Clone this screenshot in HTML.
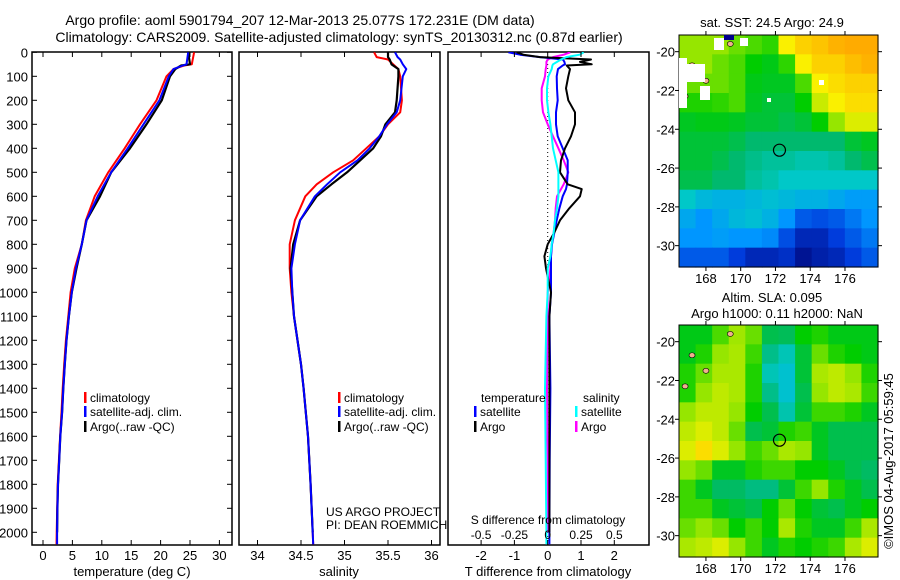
<!DOCTYPE html>
<html><head><meta charset="utf-8"><style>
html,body{margin:0;padding:0;background:#fff;}
svg{display:block;font-family:"Liberation Sans",sans-serif;}
</style></head><body>
<svg id="fig" width="900" height="580" viewBox="0 0 900 580" xmlns="http://www.w3.org/2000/svg">
<rect width="900" height="580" fill="#fff"/>
<text x="300" y="25" font-size="14" text-anchor="middle">Argo profile: aoml 5901794_207 12-Mar-2013 25.077S 172.231E (DM data)</text>
<text x="339" y="42" font-size="14" text-anchor="middle">Climatology: CARS2009. Satellite-adjusted climatology: synTS_20130312.nc (0.87d earlier)</text>
<defs>
<clipPath id="c1"><rect x="32" y="52" width="200" height="493"/></clipPath>
<clipPath id="c2"><rect x="239" y="52" width="201" height="493"/></clipPath>
<clipPath id="c3"><rect x="448" y="52" width="201" height="493"/></clipPath>
</defs>
<g id="p1"></g>
<g id="p2"></g>
<g id="p3"></g>
<g id="m1"></g>
<g id="m2"></g>
<text x="772" y="27" font-size="13" text-anchor="middle">sat. SST: 24.5 Argo: 24.9</text>
<text x="772" y="302" font-size="13" text-anchor="middle">Altim. SLA: 0.095</text>
<text x="777" y="318" font-size="13" text-anchor="middle">Argo h1000: 0.11 h2000: NaN</text>
<text x="0" y="0" font-size="13" text-anchor="middle" transform="translate(893,461) rotate(-90)">©IMOS 04-Aug-2017 05:59:45</text>
</svg>
<script>
// ---- data ----
const depthTicks=[0,100,200,300,400,500,600,700,800,900,1000,1100,1200,1300,1400,1500,1600,1700,1800,1900,2000];
const tempTicks=[0,5,10,15,20,25,30];
const salTicks=[34,34.5,35,35.5,36];
const tdiffTicks=[-2,-1,0,1,2];
const sdiffTicks=[-0.5,-0.25,0,0.25,0.5];
const tempDepth=[0,50,55,70,100,200,300,400,500,600,700,800,900,1000,1100,1200,1300,1400,1500,1600,1700,1800,1900,2000,2050];
const tempClim=[25.7,25.3,24.0,22.2,21.0,19.3,16.5,13.9,11.1,8.8,7.3,6.6,5.4,4.7,4.3,3.9,3.6,3.35,3.15,2.9,2.7,2.5,2.42,2.33,2.3];
const tempSat=[24.7,24.4,23.8,22.2,21.4,19.8,17.1,14.4,11.6,9.3,7.4,6.6,5.6,4.9,4.4,4.0,3.7,3.45,3.25,2.95,2.75,2.55,2.45,2.4,2.4];
const tempArgo=[24.7,25.0,23.5,22.5,21.6,20.2,17.6,14.8,11.6,9.7,7.4,6.6,5.7,4.9,4.4,4.0,3.7,3.45,3.25,2.95,2.75,2.55,2.45,2.4];
const salDepth=[0,20,30,50,70,100,200,250,300,350,400,450,500,550,600,700,800,900,1000,1100,1200,1300,1400,1600,1800,2000,2050];
const salClim=[35.34,35.37,35.50,35.56,35.62,35.64,35.66,35.64,35.50,35.40,35.25,35.10,34.87,34.68,34.55,34.43,34.37,34.37,34.39,34.42,34.46,34.50,34.53,34.58,34.61,34.635,34.64];
const salSat=[35.58,35.61,35.64,35.67,35.71,35.67,35.64,35.60,35.49,35.40,35.29,35.15,34.95,34.80,34.66,34.49,34.43,34.39,34.40,34.42,34.46,34.50,34.53,34.58,34.61,34.635,34.64];
const salArgo=[35.50,35.50,35.52,35.54,35.62,35.62,35.60,35.58,35.47,35.42,35.33,35.18,35.03,34.85,34.68,34.49,34.41,34.38,34.40,34.42,34.46,34.50,34.53,34.58,34.61,34.635];
const diffDepth=[0,10,20,30,40,50,55,70,100,150,200,250,300,350,400,450,500,550,570,600,650,700,750,800,850,900,1000,1100,1400,1700,2000,2050];
const tdiffSat=[-1.18,-0.83,-0.23,0.46,0.5,0.52,0.45,0.31,0.27,0.28,0.3,0.25,0.25,0.3,0.45,0.6,0.6,0.58,0.55,0.45,0.35,0.27,0.2,0.13,0.1,0.1,0.1,0.05,0.08,0.06,0.05,0.05];
const tdiffArgo=[-0.93,-0.73,-0.23,1.3,0.97,1.32,0.57,0.67,0.62,0.55,0.62,0.82,0.82,0.7,0.52,0.4,0.37,0.6,1.02,0.97,0.65,0.37,0.2,0.0,-0.1,-0.05,0.1,0.05,0.05,0.05,0.05];
const sdiffSat=[0.27,0.24,0.14,0.1,0.07,0.04,0.035,0.03,0.005,-0.005,-0.005,0.005,0.02,0.03,0.04,0.06,0.08,0.08,0.08,0.08,0.07,0.055,0.045,0.03,0.02,0.0,0.0,-0.01,-0.02,-0.015,-0.01,-0.01];
const sdiffArgo=[0.17,0.12,0.04,0.0,-0.01,-0.01,-0.01,-0.015,-0.02,-0.045,-0.045,-0.035,0,0.04,0.08,0.12,0.155,0.12,0.1,0.07,0.06,0.055,0.045,0.03,0.025,0.02,0.0,0.0,-0.005,0,0];
const latTicks=[-20,-22,-24,-26,-28,-30];
const lonTicks=[168,170,172,174,176];
const sstGrid=[
[0.75,0.75,0.75,0.72,0.70,0.68,0.85,0.90,0.92,0.95,0.96,0.96],
[0.75,0.75,0.72,0.70,0.65,0.63,0.68,0.85,0.90,0.90,0.93,0.95],
[0.72,0.72,0.72,0.70,0.63,0.62,0.62,0.70,0.85,0.88,0.90,0.90],
[0.67,0.67,0.68,0.70,0.62,0.60,0.60,0.65,0.80,0.85,0.88,0.88],
[0.62,0.63,0.63,0.62,0.60,0.60,0.58,0.60,0.65,0.75,0.82,0.82],
[0.60,0.60,0.60,0.58,0.55,0.55,0.55,0.55,0.55,0.55,0.60,0.62],
[0.60,0.60,0.58,0.55,0.52,0.50,0.50,0.48,0.48,0.50,0.55,0.58],
[0.58,0.58,0.55,0.55,0.50,0.48,0.45,0.45,0.45,0.45,0.45,0.45],
[0.45,0.40,0.38,0.38,0.40,0.42,0.40,0.38,0.38,0.35,0.32,0.32],
[0.35,0.30,0.35,0.40,0.42,0.38,0.30,0.20,0.18,0.20,0.25,0.30],
[0.30,0.30,0.32,0.30,0.30,0.28,0.18,0.10,0.10,0.15,0.20,0.25],
[0.20,0.20,0.20,0.15,0.10,0.10,0.12,0.05,0.08,0.10,0.15,0.20]];
const slaGrid=[
[0.63,0.63,0.70,0.76,0.72,0.58,0.57,0.65,0.67,0.63,0.63,0.63],
[0.63,0.67,0.75,0.77,0.69,0.52,0.47,0.60,0.72,0.67,0.65,0.63],
[0.67,0.72,0.77,0.77,0.67,0.47,0.43,0.60,0.77,0.79,0.75,0.67],
[0.67,0.75,0.79,0.77,0.67,0.52,0.43,0.58,0.75,0.79,0.77,0.69],
[0.75,0.79,0.79,0.75,0.65,0.58,0.48,0.60,0.69,0.69,0.67,0.62],
[0.79,0.82,0.79,0.72,0.58,0.60,0.67,0.69,0.62,0.58,0.58,0.58],
[0.82,0.88,0.82,0.75,0.69,0.72,0.77,0.75,0.62,0.58,0.58,0.58],
[0.75,0.72,0.62,0.62,0.67,0.69,0.69,0.65,0.65,0.62,0.58,0.56],
[0.69,0.62,0.56,0.56,0.53,0.53,0.60,0.69,0.75,0.67,0.62,0.58],
[0.69,0.69,0.62,0.60,0.58,0.65,0.72,0.65,0.60,0.58,0.62,0.65],
[0.72,0.75,0.72,0.65,0.69,0.65,0.77,0.67,0.62,0.62,0.69,0.77],
[0.77,0.79,0.82,0.75,0.69,0.62,0.67,0.65,0.67,0.69,0.77,0.82]];
const argoLon=172.231, argoLat=-25.077;

// ---- scales ----
const yD=d=>52.3+d*0.24;
const xT=t=>43+t*5.88;
const xS=s=>257.5+(s-34)*87;
const xDT=t=>547.7+t*33.3;
const xDS=s=>547.7+s*133.2;
const NS='http://www.w3.org/2000/svg';
function mk(tag,attrs,parent){const e=document.createElementNS(NS,tag);for(const k in attrs)e.setAttribute(k,attrs[k]);parent.appendChild(e);return e;}
function txt(parent,x,y,s,size,anchor){const t=mk('text',{x:x,y:y,'font-size':size,'text-anchor':anchor||'middle'},parent);t.textContent=s;return t;}

function panel(g,x0,x1,clip){
  const fr=mk('rect',{x:x0,y:52,width:x1-x0,height:493,fill:'none',stroke:'#000','stroke-width':1.5},g);
  
  
  const lg=mk('g',{'clip-path':'url(#'+clip+')'},g);
  return lg;
}
function line(parent,xs,ds,xf,color,name,w){
  const pts=xs.map((v,i)=>xf(v).toFixed(1)+','+yD(ds[i]).toFixed(1)).join(' ');
  const p=mk('polyline',{points:pts,fill:'none',stroke:color,'stroke-width':w||2,'stroke-linejoin':'round'},parent);
  
  
}
function xTicks(g,ticks,xf,labels){
  ticks.forEach((t,i)=>{
    const x=xf(t);
    mk('line',{x1:x,y1:545,x2:x,y2:540,stroke:'#000'},g);
    mk('line',{x1:x,y1:52,x2:x,y2:57,stroke:'#000'},g);
    if(labels){const l=txt(g,x,560,String(t),13);
      
      }
  });
}
function legendEntry(g,x,y,color,label){
  mk('rect',{x:x,y:y-10,width:2.5,height:11,fill:color},g);
  const t=txt(g,x+6,y,label,12,'start');
  
  
}

// panel 1
const p1=document.getElementById('p1');
const l1=panel(p1,32,232,'c1');
depthTicks.forEach(d=>{const y=yD(d);
  mk('line',{x1:32,y1:y,x2:37,y2:y,stroke:'#000'},p1);
  mk('line',{x1:232,y1:y,x2:227,y2:y,stroke:'#000'},p1);
  const t=txt(p1,28,y+5,String(d),13,'end');
  
  });
xTicks(p1,tempTicks,xT,true);
line(l1,tempClim,tempDepth,xT,'#f00','temp-climatology-line',2);
line(l1,tempArgo,tempDepth.slice(0,tempArgo.length),xT,'#000','temp-argo-line',2.2);
line(l1,tempSat,tempDepth,xT,'#00f','temp-satellite-line',2);
const xl1=txt(p1,132,576,'temperature (deg C)',13);


legendEntry(p1,84,402,'#f00','climatology');
legendEntry(p1,84,416,'#00f','satellite-adj. clim.');
legendEntry(p1,84,431,'#000','Argo(..raw -QC)');

// panel 2
const p2=document.getElementById('p2');
const l2=panel(p2,239,440,'c2');
xTicks(p2,salTicks,xS,true);
line(l2,salClim,salDepth,xS,'#f00','sal-climatology-line',2);
line(l2,salArgo,salDepth.slice(0,salArgo.length),xS,'#000','sal-argo-line',2.2);
line(l2,salSat,salDepth,xS,'#00f','sal-satellite-line',2);
const xl2=txt(p2,339,576,'salinity',13);


legendEntry(p2,338,402,'#f00','climatology');
legendEntry(p2,338,416,'#00f','satellite-adj. clim.');
legendEntry(p2,338,431,'#000','Argo(..raw -QC)');
const us1=txt(p2,326,516,'US ARGO PROJECT',12,'start');


const us2=txt(p2,326,529,'PI: DEAN ROEMMICH',12,'start');



// panel 3
const p3=document.getElementById('p3');
const l3=panel(p3,448,649,'c3');
xTicks(p3,tdiffTicks,xDT,true);
mk('line',{x1:xDT(0),y1:52,x2:xDT(0),y2:545,stroke:'#000','stroke-dasharray':'1,3'},l3);
line(l3,sdiffArgo,diffDepth.slice(0,sdiffArgo.length),xDS,'#f0f','sdiff-argo-line',2);
line(l3,tdiffSat,diffDepth,xDT,'#00f','tdiff-satellite-line',2);
line(l3,tdiffArgo,diffDepth.slice(0,tdiffArgo.length),xDT,'#000','tdiff-argo-line',2);
line(l3,sdiffSat,diffDepth,xDS,'#0ff','sdiff-satellite-line',2);
sdiffTicks.forEach(s=>{const t=txt(p3,xDS(s),539,String(s),12);
  
  });
const sl=txt(p3,548,524,'S difference from climatology',12);


const xl3=txt(p3,548,576,'T difference from climatology',13);


const lt=txt(p3,481,402,'temperature',12,'start');


const ls=txt(p3,583,402,'salinity',12,'start');


legendEntry(p3,474,416,'#00f','satellite');
legendEntry(p3,474,431,'#000','Argo');
legendEntry(p3,575,416,'#0ff','satellite');
legendEntry(p3,575,431,'#f0f','Argo');

// maps
function cmap(v){
  const stops=[[0,[0,0,110]],[0.15,[0,60,220]],[0.3,[0,150,255]],[0.45,[0,200,200]],[0.55,[0,185,110]],[0.65,[0,205,0]],[0.75,[150,230,0]],[0.85,[250,240,0]],[0.97,[255,165,0]]];
  for(let i=1;i<stops.length;i++){if(v<=stops[i][0]){const a=stops[i-1],b=stops[i],f=(v-a[0])/(b[0]-a[0]);
    return 'rgb('+a[1].map((c,k)=>Math.round(c+(b[1][k]-c)*f)).join(',')+')';}}
  return 'rgb(255,165,0)';
}
function map(g,top,grid,name){
  const left=679,right=878,bottom=top+232;
  const lonMin=166.45,lonMax=177.9,latMax=-19.14,latMin=-31.1;
  const mx=lon=>left+(lon-lonMin)/(lonMax-lonMin)*(right-left);
  const my=lat=>top+(latMax-lat)/(latMax-latMin)*(bottom-top);
  const rows=grid.length,cols=grid[0].length;
  const cw=(right-left)/cols,ch=(bottom-top)/rows;
  grid.forEach((row,r)=>row.forEach((v,c)=>{
    const cell=mk('rect',{x:left+c*cw,y:top+r*ch,width:cw+0.6,height:ch+0.6,fill:cmap(v)},g);
    
    
  }));
  const fr=mk('rect',{x:left,y:top,width:right-left,height:bottom-top,fill:'none',stroke:'#000'},g);
  
  
  latTicks.forEach(l=>{const y=my(l);
    mk('line',{x1:left-4,y1:y,x2:left,y2:y,stroke:'#000'},g);
    mk('line',{x1:right,y1:y,x2:right+4,y2:y,stroke:'#000'},g);
    const t=txt(g,left-4,y+5,String(l),13,'end');
    
    });
  lonTicks.forEach(l=>{const x=mx(l);
    mk('line',{x1:x,y1:top-4,x2:x,y2:top,stroke:'#000'},g);
    mk('line',{x1:x,y1:bottom,x2:x,y2:bottom+4,stroke:'#000'},g);
    const t=txt(g,x,bottom+16,String(l),13);
    
    });
  const c=mk('circle',{cx:mx(argoLon),cy:my(argoLat),r:6,fill:'none',stroke:'#000','stroke-width':1.2},g);
  
  
  [[167.2,-20.7],[168.0,-21.5],[166.8,-22.3],[169.4,-19.6]].forEach(p=>{
    const e=mk('ellipse',{cx:mx(p[0]),cy:my(p[1]),rx:3,ry:2.5,fill:'#f0b090',stroke:'#000','stroke-width':0.6},g);
    
    });
  return {mx,my};
}
const m1=document.getElementById('m1');
const s1=map(m1,35,sstGrid,'sst-map');
[[679,58,8,50],[687,64,18,18],[700,86,10,14],[714,38,10,12],[740,38,8,8],[819,80,5,5],[767,98,4,4]].forEach(r=>{
  const w=mk('rect',{x:r[0],y:r[1],width:r[2],height:r[3],fill:'#fff'},m1);
  
  });
mk('rect',{x:724,y:35,width:10,height:5,fill:'#00008b'},m1);
map(document.getElementById('m2'),325,slaGrid,'sla-map');
</script>
</body></html>
